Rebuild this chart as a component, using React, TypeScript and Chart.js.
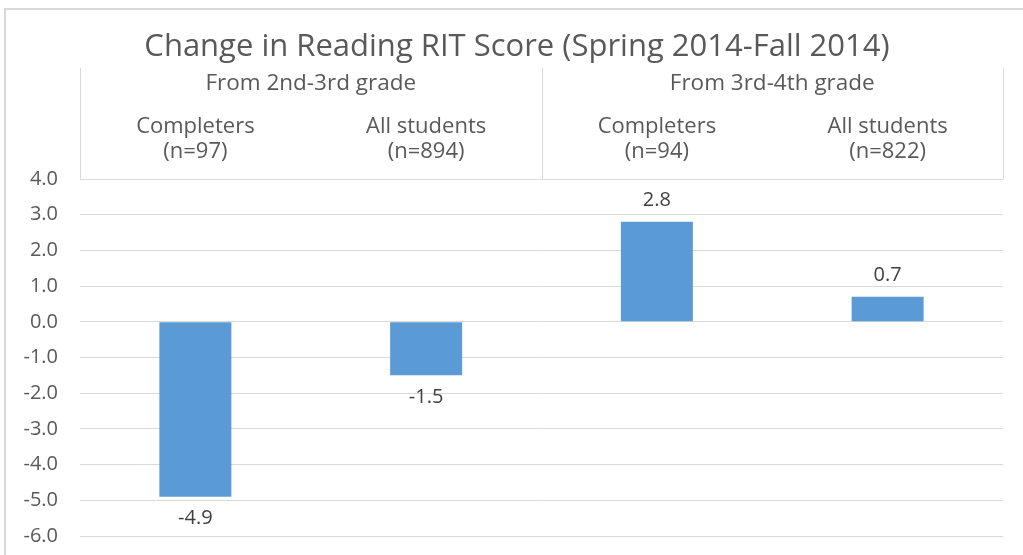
import React, { useEffect, useRef } from "react";
import { Chart, registerables } from "chart.js";

Chart.register(...registerables);

const titleText = "Change in Reading RIT Score (Spring 2014-Fall 2014)";
const groupLabels = ["From 2nd-3rd grade", "From 3rd-4th grade"];
const categoryLabels = [
  ["Completers", "(n=97)"],
  ["All students", "(n=894)"],
  ["Completers", "(n=94)"],
  ["All students", "(n=822)"],
];
const scoreChange = [-4.9, -1.5, 2.8, 0.7];
const yMin = -6;
const yMax = 4;

const FONT = "'Open Sans', sans-serif";
const TEXT = "#595959";
const GRID = "#d9d9d9";

const frameAndHeader = {
  id: "frameAndHeader",
  beforeDraw(chart: any) {
    const ctx = chart.ctx;
    ctx.save();
    ctx.strokeStyle = GRID;
    ctx.lineWidth = 2;
    ctx.beginPath();
    ctx.moveTo(5, 560);
    ctx.lineTo(5, 9);
    ctx.lineTo(1030, 9);
    ctx.stroke();
    ctx.restore();
  },
  afterDraw(chart: any) {
    const ctx = chart.ctx;
    const area = chart.chartArea;
    const top = chart.scales.x2.top;
    const xs = chart.scales.x;
    const mid = (xs.getPixelForValue(1) + xs.getPixelForValue(2)) / 2;
    ctx.save();
    ctx.strokeStyle = GRID;
    ctx.lineWidth = 1;
    ctx.beginPath();
    [area.left, mid, area.right].forEach((x: number) => {
      const px = Math.round(x) + 0.5;
      ctx.moveTo(px, top);
      ctx.lineTo(px, area.top);
    });
    ctx.stroke();
    ctx.restore();
  },
};

const valueLabels = {
  id: "valueLabels",
  afterDatasetsDraw(chart: any) {
    const ctx = chart.ctx;
    const meta = chart.getDatasetMeta(0);
    ctx.save();
    ctx.font = `20px ${FONT}`;
    ctx.fillStyle = "#404040";
    ctx.textAlign = "center";
    ctx.textBaseline = "middle";
    meta.data.forEach((bar: any, i: number) => {
      const v = scoreChange[i];
      const y = v < 0 ? bar.y + 22 : bar.y - 22;
      ctx.fillText(v.toFixed(1), bar.x, y);
    });
    ctx.restore();
  },
};

export default function App() {
  const ref = useRef<HTMLCanvasElement>(null);
  useEffect(() => {
    if (!ref.current) return;
    const chart = new Chart(ref.current, {
      type: "bar",
      data: {
        labels: categoryLabels as any,
        datasets: [
          {
            data: scoreChange,
            backgroundColor: "#5B9BD5",
            borderWidth: 0,
            categoryPercentage: 1,
            barPercentage: 0.312,
          },
        ],
      },
      options: {
        animation: false,
        responsive: false,
        layout: { padding: { left: 11, right: 0, top: 0, bottom: 19 } },
        plugins: {
          legend: { display: false },
          tooltip: { enabled: false },
          title: {
            display: true,
            text: titleText,
            color: TEXT,
            font: { family: FONT, size: 31, weight: "normal", lineHeight: 1.2 },
            padding: { top: 28.4, bottom: 2.4 },
          },
        },
        scales: {
          x: {
            position: "top",
            weight: 0,
            grid: { display: false, drawTicks: false },
            border: { display: false },
            ticks: {
              color: TEXT,
              font: { family: FONT, size: 22, lineHeight: 1.136 },
              padding: 14.5,
              maxRotation: 0,
            },
            afterFit: (s: any) => {
              s.height = 81;
            },
          },
          x2: {
            type: "category",
            position: "top",
            weight: 1,
            labels: groupLabels,
            grid: { display: false, drawTicks: false },
            border: { display: false },
            ticks: {
              color: TEXT,
              font: { family: FONT, size: 22.5, lineHeight: 1.2 },
              padding: 0.5,
              maxRotation: 0,
            },
            afterFit: (s: any) => {
              s.height = 30;
            },
          },
          y: {
            min: yMin,
            max: yMax,
            grid: { color: GRID, lineWidth: 1, drawTicks: false },
            border: { display: false },
            ticks: {
              stepSize: 1,
              color: TEXT,
              font: { family: FONT, size: 20 },
              padding: 22,
              callback: (v: any) => Number(v).toFixed(1),
            },
            afterFit: (s: any) => {
              s.width = 69;
              s.paddingTop = 0;
              s.paddingBottom = 0;
            },
          },
          yRight: {
            position: "right",
            min: yMin,
            max: yMax,
            grid: { display: false, drawTicks: false },
            border: { display: false },
            ticks: { display: false },
            afterFit: (s: any) => {
              s.width = 20;
              s.paddingTop = 0;
              s.paddingBottom = 0;
            },
          },
        },
      },
      plugins: [frameAndHeader, valueLabels],
    });
    return () => chart.destroy();
  }, []);
  return (
    <div style={{ position: "fixed", left: 0, top: 0, width: 1023, height: 555, background: "#fff" }}>
      <canvas ref={ref} width={1023} height={555} style={{ display: "block" }} />
    </div>
  );
}
